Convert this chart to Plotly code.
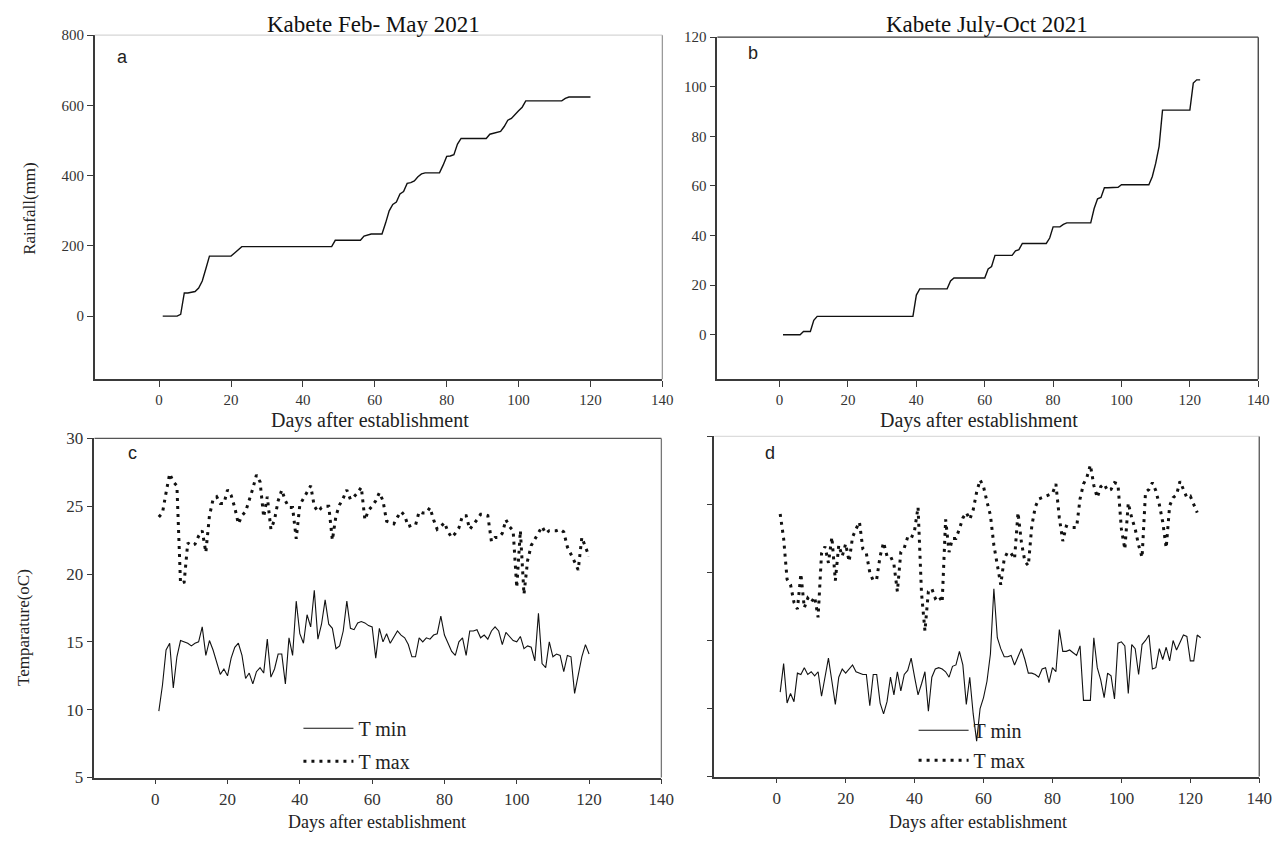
import plotly.graph_objects as go

W, H = 1275, 841

# ---------------- data ----------------
days_a = list(range(1, 121))
rain_a = [0, 0, 0, 0, 0, 5, 66, 66, 67, 70, 80, 100, 135, 171,
          171, 171, 171, 171, 171, 171, 180, 190, 198,
          198, 198, 198, 198, 198, 198, 198, 198, 198, 198, 198, 198, 198,
          198, 198, 198, 198, 198, 198, 198, 198, 198, 198, 198, 198,
          216, 216, 216, 216, 216, 216, 216, 216, 228, 232, 234, 234, 234, 234,
          265, 300, 318, 325, 348, 355, 378, 380, 385, 397, 405,
          408, 408, 408, 408, 408, 430, 455, 456, 460, 490, 506,
          506, 506, 506, 506, 506, 506, 506,
          518, 521, 522, 526, 540, 558, 563, 575, 585, 595, 613,
          613, 613, 613, 613, 613, 613, 613, 613, 613, 613,
          620, 624, 624, 624, 624, 624, 624, 624]

days_b = list(range(1, 124))
rain_b = [0, 0, 0, 0, 0, 0, 1.3, 1.3, 1.3, 5.8, 7.4,
          7.4, 7.4, 7.4, 7.4, 7.4, 7.4, 7.4, 7.4, 7.4, 7.4, 7.4, 7.4, 7.4, 7.4,
          7.4, 7.4, 7.4, 7.4, 7.4, 7.4, 7.4, 7.4, 7.4, 7.4, 7.4, 7.4, 7.4, 7.4,
          16.0, 18.5, 18.5, 18.5, 18.5, 18.5, 18.5, 18.5, 18.5, 18.5,
          21.7, 22.9, 22.9, 22.9, 22.9, 22.9, 22.9, 22.9, 22.9, 22.9, 22.9,
          26.5, 27.5, 32.0, 32.0, 32.0, 32.0, 32.0, 32.0,
          33.8, 34.3, 36.8, 36.8, 36.8, 36.8, 36.8, 36.8, 36.8, 36.8,
          39.0, 43.5, 43.5, 43.5, 44.5, 45.1,
          45.1, 45.1, 45.1, 45.1, 45.1, 45.1, 45.1,
          50.9, 54.8, 55.4, 59.3, 59.3, 59.3, 59.3, 59.5, 60.5,
          60.5, 60.5, 60.5, 60.5, 60.5, 60.5, 60.5, 60.5,
          63.7, 69.1, 76.0, 90.6,
          90.6, 90.6, 90.6, 90.6, 90.6, 90.6, 90.6, 90.6,
          101.5, 102.8, 102.8]

days_c = list(range(1, 121))
tmin_c = [9.9, 11.8, 14.4, 14.9, 11.6, 13.9, 15.1, 15.0, 14.9, 14.7,
          14.9, 15.0, 16.1, 14.0, 15.1, 14.4, 13.4, 12.6, 13.0, 12.5,
          13.8, 14.6, 14.9, 14.0, 12.3, 12.7, 11.9, 12.8, 13.1, 12.7,
          15.2, 12.4, 13.0, 14.1, 14.1, 11.9, 15.3, 14.0, 18.0, 15.6,
          14.9, 17.0, 16.1, 18.8, 15.2, 16.3, 18.1, 16.3, 16.0, 14.5,
          14.7, 15.8, 18.0, 16.0, 15.9, 16.4, 16.5, 16.4, 16.2, 16.1,
          13.8, 16.0, 15.0, 15.6, 14.9, 15.4, 15.8, 15.5, 15.3, 14.8,
          13.9, 13.9, 15.3, 15.0, 15.3, 15.2, 15.5, 15.6, 16.9, 15.5,
          14.9, 14.3, 14.0, 15.0, 15.3, 14.0, 15.8, 15.8, 15.9, 15.3,
          15.5, 15.2, 15.8, 16.1, 15.8, 14.8, 15.7, 15.4, 15.1, 15.0,
          15.4, 14.5, 14.7, 14.6, 13.6, 17.1, 13.4, 13.1, 15.0, 13.9,
          14.1, 14.0, 12.8, 14.0, 13.9, 11.2, 12.6, 13.9, 14.8, 14.1]
tmax_c = [24.2, 24.5, 26.0, 27.4, 26.8, 26.5, 19.3, 19.4, 22.3, 22.1,
          22.2, 22.8, 23.2, 21.6, 24.3, 25.5, 25.7, 25.2, 25.2, 26.2,
          25.8, 24.9, 23.7, 24.3, 24.6, 25.4, 26.3, 27.3, 26.8, 24.2,
          25.7, 23.3, 24.0, 25.4, 26.2, 25.4, 24.9, 24.9, 22.6, 25.1,
          25.6, 26.1, 26.5, 25.0, 24.6, 24.9, 25.0, 25.0, 22.5, 24.3,
          25.1, 25.6, 26.2, 25.5, 25.7, 26.0, 26.4, 24.0, 24.7, 25.0,
          25.4, 26.0, 25.4, 23.9, 23.8, 23.7, 24.2, 24.6, 24.3, 23.5,
          23.6, 23.6, 24.6, 24.5, 24.5, 24.9, 24.0, 23.3, 23.5, 23.8,
          23.1, 22.7, 23.0, 23.4, 24.3, 24.3, 23.3, 23.7, 24.0, 24.4,
          24.4, 24.3, 22.4, 22.7, 22.7, 23.0, 24.0, 23.5, 23.2, 19.0,
          23.2, 18.5, 21.0, 22.1, 22.6, 23.0, 23.5, 23.0, 23.2, 23.2,
          23.2, 23.3, 23.1, 22.0, 21.5, 20.9, 20.3, 22.7, 22.0, 21.3]

days_d_min = list(range(1, 124))
tmin_d = [11.2, 13.3, 10.4, 11.1, 10.5, 12.6, 12.5, 13.0, 12.5, 12.7,
          12.4, 12.7, 10.9, 12.3, 13.7, 12.0, 10.3, 12.3, 12.9, 12.6,
          12.9, 13.2, 12.7, 12.6, 12.5, 12.5, 10.2, 12.5, 12.5, 10.4,
          9.6, 10.5, 12.3, 11.0, 12.7, 11.3, 12.5, 12.8, 13.7, 12.3,
          11.0, 11.8, 12.7, 9.8, 12.3, 12.9, 13.0, 12.9, 12.7, 12.3,
          13.1, 13.2, 14.2, 13.2, 10.3, 12.3, 9.6, 7.6, 10.0, 10.8,
          12.0, 14.0, 18.8, 15.2, 14.4, 13.8, 13.8, 13.9, 13.2, 13.8,
          14.4, 13.6, 12.6, 12.6, 12.5, 12.3, 12.9, 13.0, 11.9, 13.0,
          12.7, 15.8, 14.2, 14.2, 14.3, 14.1, 13.9, 14.6, 10.6, 10.6,
          10.6, 15.2, 13.0, 12.1, 10.8, 12.6, 12.4, 10.7, 14.8, 14.9,
          14.6, 11.1, 14.7, 14.4, 12.5, 14.7, 15.0, 15.4, 12.9, 13.0,
          14.4, 13.6, 14.5, 13.5, 15.0, 14.3, 14.8, 15.4, 15.3, 13.5,
          13.5, 15.4, 15.2]

days_d_max = list(range(1, 123))
tmax_d = [24.3, 22.5, 19.5, 19.1, 17.8, 17.3, 19.9, 17.4, 18.1, 17.8,
          18.2, 16.7, 21.4, 21.9, 20.7, 22.6, 19.4, 22.0, 21.2, 22.1,
          20.8, 22.6, 23.2, 23.7, 21.7, 21.4, 20.0, 19.4, 19.5, 21.2,
          22.2, 21.2, 21.2, 20.6, 18.6, 21.5, 21.8, 22.6, 22.5, 23.1,
          24.8, 18.5, 15.7, 18.6, 18.8, 18.1, 18.3, 17.8, 23.9, 21.5,
          22.5, 22.5, 23.2, 24.0, 24.4, 23.9, 24.6, 25.9, 26.8, 26.3,
          25.2, 24.2, 22.0, 20.5, 19.1, 21.0, 21.5, 21.4, 21.0, 24.4,
          22.2, 20.8, 20.5, 23.4, 24.8, 25.4, 25.5, 25.6, 25.7, 25.8,
          26.5, 24.0, 22.3, 23.4, 23.3, 23.3, 23.3, 25.4, 26.5, 27.0,
          27.9, 26.4, 25.5, 26.3, 26.5, 26.0, 26.1, 26.6, 26.5, 23.2,
          21.7, 25.1, 24.0, 23.2, 22.0, 21.1, 25.9, 26.1, 26.6, 26.0,
          25.0, 23.7, 21.8, 24.9, 25.5, 25.7, 26.7, 26.1, 25.5, 25.6,
          25.0, 24.4]

x_ticks = [0, 20, 40, 60, 80, 100, 120, 140]
ya_ticks = [0, 200, 400, 600, 800]
yb_ticks = [0, 20, 40, 60, 80, 100, 120]
yt_ticks = [5, 10, 15, 20, 25, 30]

titles = ["Kabete Feb- May 2021", "Kabete July-Oct 2021"]
xlabel = "Days after establishment"

# ---------------- layout helpers ----------------
SERIF = "Liberation Serif, Times New Roman, serif"
SANS = "Liberation Sans, Arial, sans-serif"
AX = "#3a3a3a"


# the photographed page shows the figure slightly shrunk/offset; map the
# wanted on-screen pixel positions back to figure pixels
def SX(px):
    return (px + 1.5) / 0.99


def SY(py):
    return min((py - 8.8) / 0.977, H)


def xdom(left, right):
    return [SX(left) / W, min(SX(right) / W, 1.0)]


def ydom(top, bottom):
    return [1 - SY(bottom) / H, 1 - SY(top) / H]


def axis(domain, rng, ticks, anchor, fsize, labels=True, ticklen=6):
    return dict(domain=domain, range=rng, tickvals=ticks, anchor=anchor,
                ticks="outside", ticklen=ticklen, tickwidth=1.2, tickcolor=AX,
                showline=True, linecolor=AX, linewidth=1.5, mirror=False,
                showgrid=False, zeroline=False, showticklabels=labels,
                tickfont=dict(family=SERIF, size=fsize, color="#333"))


fig = go.Figure()

line_k = dict(color="#111", width=1.4)
fig.add_trace(go.Scatter(x=days_a, y=rain_a, mode="lines", line=line_k,
                         xaxis="x", yaxis="y", showlegend=False))
fig.add_trace(go.Scatter(x=days_b, y=rain_b, mode="lines", line=line_k,
                         xaxis="x2", yaxis="y2", showlegend=False))

tmin_line = dict(color="#111", width=1.1)
tmax_line = dict(color="#111", width=3, dash="3px,5px")
fig.add_trace(go.Scatter(x=days_c, y=tmin_c, mode="lines", line=tmin_line,
                         name="T min", legendgroup="c1",
                         xaxis="x3", yaxis="y3", legend="legend"))
fig.add_trace(go.Scatter(x=days_c, y=tmax_c, mode="lines", line=tmax_line,
                         name="T max", legendgroup="c2",
                         xaxis="x3", yaxis="y3", legend="legend"))
fig.add_trace(go.Scatter(x=days_d_min, y=tmin_d, mode="lines", line=tmin_line,
                         name="T min", legendgroup="d1",
                         xaxis="x4", yaxis="y4", legend="legend2"))
fig.add_trace(go.Scatter(x=days_d_max, y=tmax_d, mode="lines", line=tmax_line,
                         name="T max", legendgroup="d2",
                         xaxis="x4", yaxis="y4", legend="legend2"))

# panel on-screen pixel boxes (left, right, top, bottom)
A = (93.3, 661, 35, 379)
B = (716, 1257, 37, 379)
C = (93, 660, 438, 777)
D = (713, 1258, 436, 776)

leg_font = dict(family=SERIF, size=20, color="#222")
layout = dict(
    width=W, height=H, margin=dict(l=0, r=0, t=0, b=0),
    paper_bgcolor="white", plot_bgcolor="white",
    xaxis=axis(xdom(A[0], A[1]), [-17.9, 140], x_ticks, "y", 15),
    yaxis=axis(ydom(A[2], A[3]), [-180, 800], ya_ticks, "x", 15),
    xaxis2=axis(xdom(B[0], B[1]), [-18.2, 140], x_ticks, "y2", 15),
    yaxis2=axis(ydom(B[2], B[3]), [-18, 120], yb_ticks, "x2", 15),
    xaxis3=axis(xdom(C[0], C[1]), [-16.8, 140], x_ticks, "y3", 17, ticklen=5),
    yaxis3=axis(ydom(C[2], C[3]), [5, 30], yt_ticks, "x3", 17),
    xaxis4=axis(xdom(D[0], D[1]), [-18.1, 140], x_ticks, "y4", 17, ticklen=5),
    yaxis4=axis(ydom(D[2], D[3]), [5, 30], yt_ticks, "x4", 17, labels=False),
    legend=dict(x=301.5 / W, y=1 - 716 / H, xanchor="left", yanchor="top",
                bgcolor="rgba(0,0,0,0)", itemwidth=50, tracegroupgap=4,
                font=leg_font),
    legend2=dict(x=923 / W, y=1 - 718 / H, xanchor="left", yanchor="top",
                 bgcolor="rgba(0,0,0,0)", itemwidth=50, tracegroupgap=1,
                 font=leg_font),
    showlegend=True,
)
fig.update_layout(**layout)


def border(xref, yref, side, color, width=1.3):
    if side == "top":
        return dict(type="line", xref=xref, yref=yref, x0=0, x1=1, y0=1, y1=1,
                    line=dict(color=color, width=width))
    return dict(type="line", xref=xref, yref=yref, x0=1, x1=1, y0=0, y1=1,
                line=dict(color=color, width=width))


shapes = [
    border("x domain", "y domain", "top", "#d6d6d6"),
    border("x domain", "y domain", "right", "#9a9a9a"),
    border("x2 domain", "y2 domain", "top", AX),
    border("x2 domain", "y2 domain", "right", AX),
    border("x3 domain", "y3 domain", "top", "#555"),
    border("x3 domain", "y3 domain", "right", "#777"),
    border("x4 domain", "y4 domain", "top", "#dcdcdc"),
    border("x4 domain", "y4 domain", "right", "#555"),
]
fig.update_layout(shapes=shapes)


def ann(text, px, py, size, family=SERIF, angle=0, color="#222"):
    return dict(text=text, x=SX(px) / W, y=1 - SY(py) / H,
                xref="paper", yref="paper",
                xanchor="center", yanchor="middle", showarrow=False,
                textangle=angle, font=dict(family=family, size=size, color=color))


annotations = [
    ann(titles[0], 372, 24, 23, color="#111"),
    ann(titles[1], 986, 24, 23, color="#111"),
    ann(xlabel, 369, 420, 20),
    ann(xlabel, 978, 420, 20),
    ann(xlabel, 376, 821.5, 18),
    ann(xlabel, 977, 821.5, 18),
    ann("Rainfall(mm)", 28, 208, 17, angle=-90),
    ann("Temparature(oC)", 22, 627, 17, angle=-90),
    ann("a", 121, 57, 18, family=SANS),
    ann("b", 752, 53, 18, family=SANS),
    ann("c", 131, 453, 18, family=SANS),
    ann("d", 769, 453, 18, family=SANS),
]
fig.update_layout(annotations=annotations)

page_fix = ("var s=document.body.style;s.margin='0';s.padding='0';"
            "s.overflow='hidden';document.documentElement.style.overflow='hidden';")
fig.write_html("out.html", config={"displayModeBar": False}, post_script=page_fix)
